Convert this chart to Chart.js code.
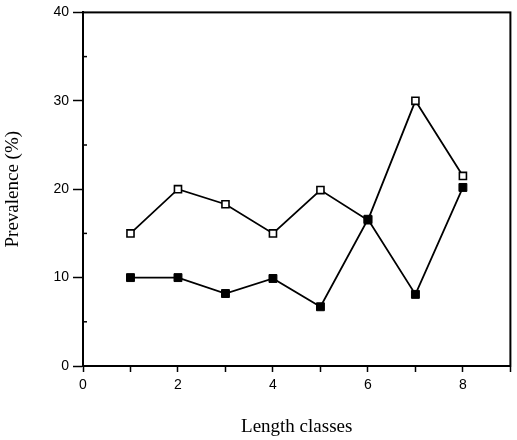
<!DOCTYPE html>
<html lang="en">
  <head>
    <meta charset="UTF-8" />
    <title>Prevalence by length class</title>
    <script src="https://cdn.jsdelivr.net/npm/chart.js@4"></script>
    <style>
      html, body { margin: 0; padding: 0; background: #fff; }
      #wrap { width: 517px; height: 440px; }
    </style>
  </head>
  <body>
    <div id="wrap"><canvas id="myChart" width="517" height="440"></canvas></div>
    <script>
      // length classes and prevalence (%)
      let lengthClasses = [1, 2, 3, 4, 5, 6, 7, 8];
      let openSeries = [15, 20, 18.3, 15, 19.9, 16.5, 30, 21.5];
      let filledSeries = [10, 10, 8.2, 9.9, 6.7, 16.6, 8.1, 20.2];
      let xTickLabels = [0, 2, 4, 6, 8];
      let yTickLabels = [0, 10, 20, 30, 40];

      function points(values) {
        return lengthClasses.map((x, i) => ({ x: x, y: values[i] }));
      }

      // box round the plot and small inner minor ticks on the y axis
      let framePlugin = {
        id: "frame",
        afterDraw(chart) {
          let ctx = chart.ctx;
          let a = chart.chartArea;
          let y = chart.scales.y;
          ctx.save();
          ctx.strokeStyle = "#000";
          ctx.lineWidth = 2;
          ctx.strokeRect(a.left, a.top, a.right - a.left, a.bottom - a.top);
          ctx.lineWidth = 1.5;
          [5, 15, 25, 35].forEach((v) => {
            let py = y.getPixelForValue(v);
            ctx.beginPath();
            ctx.moveTo(a.left, py);
            ctx.lineTo(a.left + 4, py);
            ctx.stroke();
          });
          ctx.restore();
        },
      };

      let tickFont = { family: "Liberation Sans", size: 14 };
      let titleFont = { family: "Liberation Serif", size: 19 };

      let config = {
        type: "line",
        data: {
          datasets: [
            {
              label: "filled",
              data: points(filledSeries),
              borderColor: "#000",
              backgroundColor: "#000",
              borderWidth: 1.8,
              pointStyle: "rect",
              pointRadius: 5.6,
              pointBorderWidth: 1,
              pointBackgroundColor: "#000",
              tension: 0,
            },
            {
              label: "open",
              data: points(openSeries),
              borderColor: "#000",
              backgroundColor: "#fff",
              borderWidth: 1.8,
              pointStyle: "rect",
              pointRadius: 5,
              pointBorderWidth: 1.6,
              pointBackgroundColor: "#fff",
              tension: 0,
            },
          ],
        },
        options: {
          responsive: false,
          animation: false,
          layout: { padding: { top: 11, right: 1, left: 0, bottom: 0 } },
          plugins: { legend: { display: false }, tooltip: { enabled: false } },
          scales: {
            x: {
              type: "linear",
              min: 0,
              max: 9,
              afterFit: (s) => { s.height = 74; },
              border: { color: "#000", width: 2 },
              grid: { drawOnChartArea: false, tickLength: 6, tickColor: "#000", tickWidth: 1.5 },
              ticks: {
                stepSize: 1,
                autoSkip: false,
                maxRotation: 0,
                padding: 5,
                color: "#000",
                font: tickFont,
                callback: (v) => (xTickLabels.includes(v) ? v : ""),
              },
              title: {
                display: true,
                text: "Length classes",
                color: "#000",
                font: titleFont,
                padding: { top: 0, bottom: 2 },
              },
            },
            y: {
              min: 0,
              max: 40,
              afterFit: (s) => { s.width = 83; },
              border: { color: "#000", width: 2 },
              grid: {
                drawOnChartArea: false,
                tickLength: 10,
                tickWidth: 1.5,
                tickColor: (c) => (c.tick && yTickLabels.includes(c.tick.value) ? "#000" : "rgba(0,0,0,0)"),
              },
              ticks: {
                stepSize: 5,
                padding: 4,
                color: "#000",
                font: tickFont,
                callback: (v) => (yTickLabels.includes(v) ? v : ""),
              },
              title: {
                display: true,
                text: "Prevalence (%)",
                color: "#000",
                font: titleFont,
                padding: { top: 2, bottom: 0 },
              },
            },
          },
        },
        plugins: [framePlugin],
      };

      let myChart = new Chart(document.getElementById("myChart"), config);
    </script>
  </body>
</html>
